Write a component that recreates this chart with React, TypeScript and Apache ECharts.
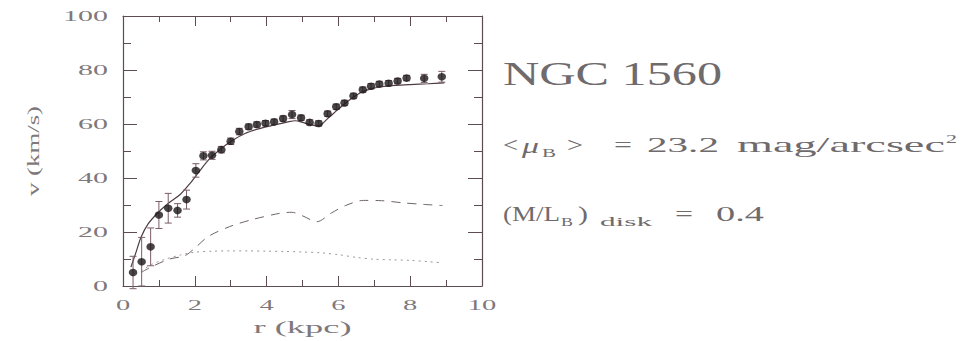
import React, { useEffect, useRef } from "react";
import * as echarts from "echarts";

// ---------- data ----------
const obsR = [0.28, 0.52, 0.77, 1.0, 1.26, 1.52, 1.77, 2.03, 2.24, 2.48, 2.74, 3.0, 3.24, 3.5, 3.73, 3.97, 4.21, 4.46, 4.71, 4.96, 5.2, 5.45, 5.7, 5.94, 6.17, 6.42, 6.68, 6.91, 7.14, 7.4, 7.65, 7.9, 8.39, 8.88];
const obsV = [5, 9, 14.5, 26.3, 28.8, 28, 32, 42.8, 48.2, 48.4, 50.5, 53.6, 57.2, 59, 59.8, 60.3, 60.8, 62, 63.5, 62.3, 60.6, 60.2, 63.8, 66.4, 67.8, 70.4, 72.7, 74, 74.8, 75.1, 75.9, 77, 76.9, 77.5];
const obsErr = [6, 9, 7, 5, 5.5, 2.5, 3.5, 2.5, 1.5, 1.5, 1.2, 1.2, 1.2, 1, 1, 1, 1, 1, 1.5, 1, 1, 1, 1, 1, 1, 1, 1, 1, 1, 1, 1, 1, 1.5, 2];

const modelR = [0.22, 0.35, 0.5, 0.7, 1.0, 1.3, 1.6, 1.9, 2.1, 2.4, 2.7, 3.0, 3.4, 3.8, 4.2, 4.6, 4.8, 5.0, 5.2, 5.45, 5.7, 6.0, 6.3, 6.6, 6.9, 7.2, 7.6, 8.0, 8.5, 8.95];
const modelV = [7, 12, 18, 23, 27.5, 31, 34, 38.5, 42, 47, 50.5, 53.5, 56.5, 58.3, 59.6, 60.8, 61.2, 60.6, 59.8, 59.3, 62, 65.5, 68.8, 71.5, 73, 73.8, 74.3, 74.6, 74.9, 75.2];

const diskR = [0.5, 0.84, 1.3, 1.72, 2.0, 2.37, 2.97, 3.6, 4.36, 4.7, 5.0, 5.4, 5.8, 6.2, 6.7, 7.2, 7.8, 8.4, 8.9];
const diskV = [5, 7.4, 10, 11.2, 14, 18.3, 22, 24.6, 26.9, 27.3, 26, 23.8, 27, 29.8, 31.7, 31.6, 30.8, 30.2, 29.8];

const gasR = [0.5, 0.8, 1.2, 1.6, 2.0, 2.5, 3.0, 3.5, 4.0, 4.5, 5.0, 5.5, 6.0, 6.5, 7.0, 7.5, 8.0, 8.5, 8.9];
const gasV = [5.5, 8, 10, 11.5, 12.5, 12.9, 13, 13, 12.9, 12.8, 12.6, 12.3, 11.6, 10.6, 9.9, 9.7, 9.5, 9.0, 8.6];

const xTicks = [0, 2, 4, 6, 8, 10];
const yTicks = [0, 20, 40, 60, 80, 100];
const xTitle = "r (kpc)";
const yTitle = "v (km/s)";
const galaxyName = "NGC 1560";
const sbText = ["<", "μ", "B", ">", "=", "23.2", "mag/arcsec", "2"];
const mlText = ["(M/L", "B", ")", "disk", "=", "0.4"];

// ---------- styles ----------
const FONT = "Liberation Serif";
const AXIS = "#5e4c53";
const TEXT = "#6f6a6c";
const TICKTEXT = "#7e787b";
const GRID = { left: 123, right: 492, top: 16, bottom: 55 };

let measureCtx: CanvasRenderingContext2D | null = null;
function textWidth(t: string, size: number, italic = false) {
  if (!measureCtx) measureCtx = document.createElement("canvas").getContext("2d");
  measureCtx!.font = `${italic ? "italic " : ""}${size}px "${FONT}"`;
  return measureCtx!.measureText(t).width;
}

function txt(
  text: string,
  x: number,
  y: number,
  size: number,
  o: { w?: number; sx?: number; align?: string; italic?: boolean; rot?: number; fill?: string } = {}
) {
  const sx = o.w ? o.w / textWidth(text, size, !!o.italic) : o.sx ?? 1;
  const align = o.align ?? "left";
  return {
    type: "text",
    x,
    y,
    scaleX: sx,
    rotation: o.rot ?? 0,
    silent: true,
    z: 100,
    style: {
      text,
      fontSize: size,
      fontFamily: FONT,
      fontStyle: o.italic ? "italic" : "normal",
      fill: o.fill ?? TEXT,
      align,
      verticalAlign: "middle",
      textAlign: align,
      textVerticalAlign: "middle",
    },
  };
}

function axisX(position: "bottom" | "top") {
  return {
    type: "value",
    position,
    min: 0,
    max: 10,
    interval: 2,
    axisLine: { show: true, onZero: false, lineStyle: { color: AXIS, width: 1.2 } },
    axisTick: { show: true, inside: true, length: 10, lineStyle: { color: AXIS, width: 1 } },
    minorTick: { show: true, splitNumber: 2, length: 6, lineStyle: { color: AXIS, width: 1 } },
    axisLabel: { show: false },
    splitLine: { show: false },
    minorSplitLine: { show: false },
  };
}
function axisY(position: "left" | "right") {
  return {
    type: "value",
    position,
    min: 0,
    max: 100,
    interval: 20,
    axisLine: { show: true, onZero: false, lineStyle: { color: AXIS, width: 1.2 } },
    axisTick: { show: true, inside: true, length: 14, lineStyle: { color: AXIS, width: 1 } },
    minorTick: { show: true, splitNumber: 2, length: 8, lineStyle: { color: AXIS, width: 1 } },
    axisLabel: { show: false },
    splitLine: { show: false },
    minorSplitLine: { show: false },
  };
}

export default function App() {
  const ref = useRef<HTMLDivElement>(null);
  useEffect(() => {
    if (!ref.current) return;
    const chart = echarts.init(ref.current, null, { renderer: "svg" });
    const errData = obsR.map((r, i) => [r, obsV[i] - obsErr[i], obsV[i] + obsErr[i]]);
    chart.setOption({
      animation: false,
      backgroundColor: "#ffffff",
      grid: { ...GRID, containLabel: false, outerBoundsMode: "none" },
      xAxis: [axisX("bottom"), axisX("top")],
      yAxis: [axisY("left"), axisY("right")],
      series: [
        {
          type: "line",
          data: modelR.map((r, i) => [r, modelV[i]]),
          showSymbol: false,
          smooth: 0.3,
          lineStyle: { color: "#4e3c44", width: 1.2 },
          z: 3,
          silent: true,
        },
        {
          type: "line",
          data: diskR.map((r, i) => [r, diskV[i]]),
          showSymbol: false,
          smooth: 0.3,
          lineStyle: { color: "#6e6466", width: 1, type: [9, 7] },
          z: 2,
          silent: true,
        },
        {
          type: "line",
          data: gasR.map((r, i) => [r, gasV[i]]),
          showSymbol: false,
          smooth: 0.3,
          lineStyle: { color: "#a0969a", width: 1, type: [2, 4] },
          z: 2,
          silent: true,
        },
        {
          type: "custom",
          data: errData,
          encode: { x: 0, y: [1, 2] },
          silent: true,
          z: 4,
          renderItem: (_p: any, api: any) => {
            const lo = api.coord([api.value(0), api.value(1)]);
            const hi = api.coord([api.value(0), api.value(2)]);
            const c = 3.5;
            const st = { stroke: "#7a5d68", lineWidth: 1 };
            return {
              type: "group",
              children: [
                { type: "line", shape: { x1: lo[0], y1: lo[1], x2: hi[0], y2: hi[1] }, style: st },
                { type: "line", shape: { x1: lo[0] - c, y1: lo[1], x2: lo[0] + c, y2: lo[1] }, style: st },
                { type: "line", shape: { x1: hi[0] - c, y1: hi[1], x2: hi[0] + c, y2: hi[1] }, style: st },
              ],
            };
          },
        },
        {
          type: "scatter",
          data: obsR.map((r, i) => [r, obsV[i]]),
          symbol: "circle",
          symbolSize: [8.5, 7.5],
          itemStyle: { color: "#1c1719" },
          z: 5,
          silent: true,
        },
      ],
    });

    const px = (v: number) => chart.convertToPixel({ xAxisIndex: 0 }, v) as number;
    const py = (v: number) => chart.convertToPixel({ yAxisIndex: 0 }, v) as number;
    const g: any[] = [];
    xTicks.forEach((v) => g.push(txt(String(v), px(v), 305, 15, { sx: 1.9, align: "center", fill: TICKTEXT })));
    yTicks.forEach((v) => g.push(txt(String(v), 108, py(v), 15, { sx: 2.0, align: "right", fill: TICKTEXT })));
    g.push(txt(xTitle, px(5), 328, 16, { w: 98, align: "center", fill: TICKTEXT }));
    g.push(txt(yTitle, 34, py(50), 16, { w: 90, align: "center", rot: Math.PI / 2, fill: TICKTEXT }));

    // annotations
    g.push(txt(galaxyName, 503, 74, 33, { w: 219 }));
    g.push(txt(sbText[0], 503, 144.5, 22, { w: 15 }));
    g.push(txt(sbText[1], 522, 146, 22, { w: 17, italic: true }));
    g.push(txt(sbText[2], 542, 153, 12, { w: 14 }));
    g.push(txt(sbText[3], 567, 144.5, 22, { w: 16 }));
    g.push(txt(sbText[4], 614, 144.5, 22, { w: 18 }));
    g.push(txt(sbText[5], 647, 144.5, 22, { w: 72 }));
    g.push(txt(sbText[6], 737, 144.5, 22, { w: 208 }));
    g.push(txt(sbText[7], 946, 139, 13, { w: 11 }));

    g.push(txt(mlText[0], 503, 213.5, 22, { w: 57 }));
    g.push(txt(mlText[1], 561, 222, 12, { w: 12 }));
    g.push(txt(mlText[2], 578, 213.5, 22, { w: 10 }));
    g.push(txt(mlText[3], 600, 222, 13, { w: 52 }));
    g.push(txt(mlText[4], 675, 213.5, 22, { w: 18 }));
    g.push(txt(mlText[5], 716, 213.5, 22, { w: 48 }));

    chart.setOption({ graphic: g });
    return () => chart.dispose();
  }, []);
  return (
    <div
      ref={ref}
      style={{ position: "absolute", left: 0, top: 0, width: 974, height: 341, background: "#fff" }}
    />
  );
}
